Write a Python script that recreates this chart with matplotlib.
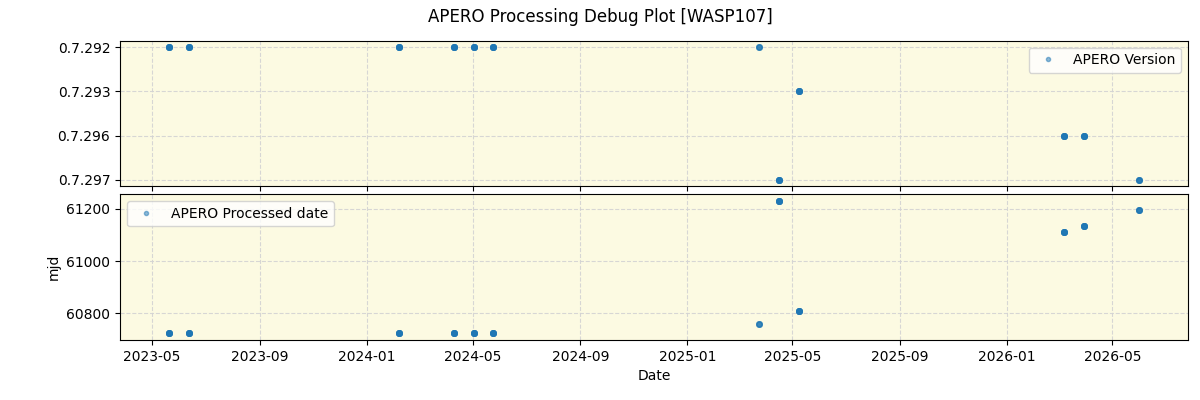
import matplotlib
matplotlib.use("Agg")
import matplotlib.pyplot as plt
import pandas as pd

# one entry per observing night
night_date = ["2023-05-20", "2023-06-12", "2024-02-07", "2024-04-10", "2024-05-03",
              "2024-05-24", "2025-03-24", "2025-04-16", "2025-05-08", "2026-03-07",
              "2026-03-30", "2026-06-01"]
# apero version used for that night
night_version = ["0.7.292", "0.7.292", "0.7.292", "0.7.292", "0.7.292",
                 "0.7.292", "0.7.292", "0.7.297", "0.7.293", "0.7.296",
                 "0.7.296", "0.7.297"]
# processed date (mjd) for that night
night_mjd = [60724, 60724, 60724, 60724, 60724,
             60724, 60758, 61230, 60808, 61112,
             61135, 61196]
# number of files per night
night_nfiles = [6, 6, 6, 6, 6, 6, 3, 6, 6, 6, 6, 4]

version_order = ["0.7.292", "0.7.293", "0.7.296", "0.7.297"]

# expand to one row per file
obs_date, apero_version, processed_mjd = [], [], []
for d, v, m, n in zip(night_date, night_version, night_mjd, night_nfiles):
    obs_date += [d] * n
    apero_version += [v] * n
    processed_mjd += [m] * n

dates = pd.to_datetime(obs_date)
ver_idx = [version_order.index(v) for v in apero_version]

fig, (ax1, ax2) = plt.subplots(2, 1, figsize=(12, 4), dpi=100, sharex=True)
fig.subplots_adjust(left=0.1, right=0.99, top=0.8985, bottom=0.15, hspace=0.055)
fig.suptitle("APERO Processing Debug Plot [WASP107]", fontsize=12)

ax1.plot(dates, ver_idx, ".", color="#1f77b4", alpha=0.5, markersize=8, label="APERO Version")
ax1.set_yticks(range(len(version_order)))
ax1.set_yticklabels(version_order)
ax1.invert_yaxis()
ax1.legend(loc="upper right", markerscale=0.75)

ax2.plot(dates, processed_mjd, ".", color="#1f77b4", alpha=0.5, markersize=8, label="APERO Processed date")
ax2.set_ylabel("mjd")
ax2.set_xlabel("Date")
ax2.legend(loc="upper left", markerscale=0.75)

for ax in (ax1, ax2):
    ax.set_facecolor("#fcfae2")
    ax.grid(True, linestyle="--", color="lightgray", alpha=0.9)

plt.savefig("out.png")
